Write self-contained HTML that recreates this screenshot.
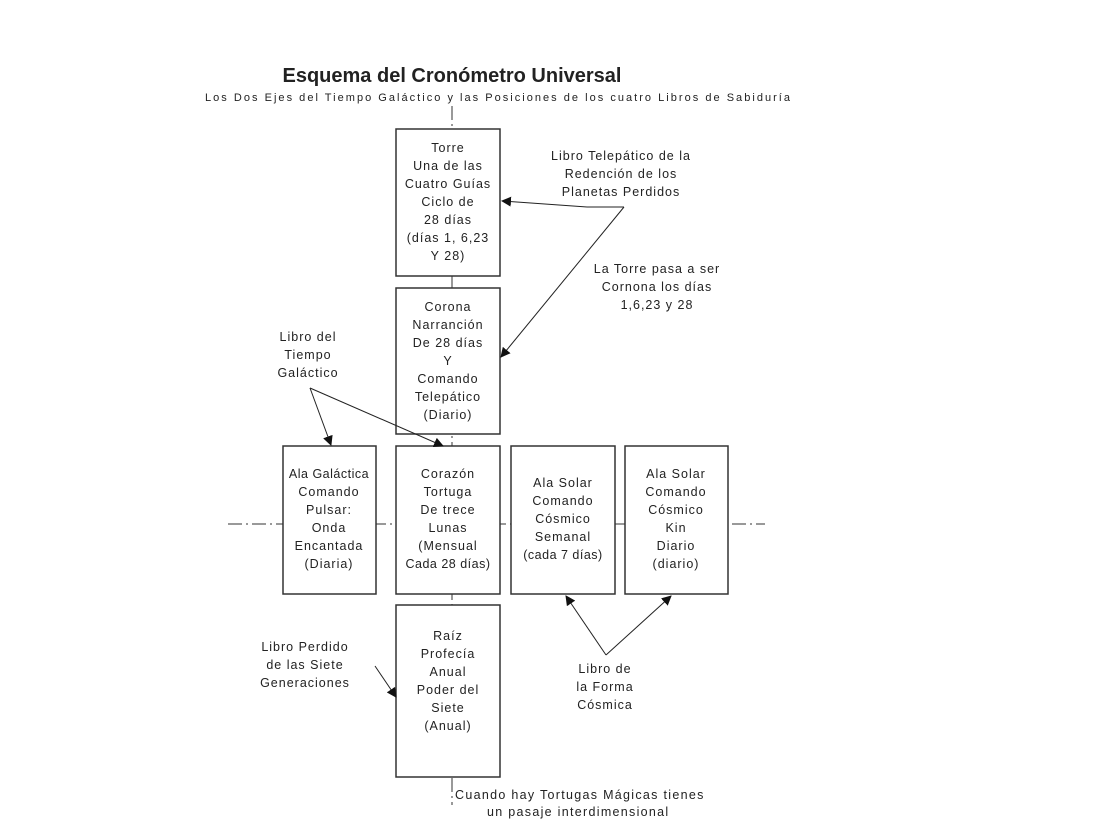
<!DOCTYPE html>
<html><head><meta charset="utf-8"><style>
body{margin:0;background:#fff;}
svg text{font-family:"Liberation Sans",sans-serif;fill:#222;}
</style></head><body>
<svg width="1105" height="830" viewBox="0 0 1105 830" xmlns="http://www.w3.org/2000/svg">
<defs><marker id="a" markerWidth="10" markerHeight="10" refX="9" refY="5" orient="auto" markerUnits="userSpaceOnUse"><path d="M0,0 L10,5 L0,10 z" fill="#111"/></marker></defs>
<text x="452" y="82" font-size="20" font-weight="bold" text-anchor="middle">Esquema del Cronómetro Universal</text>
<text x="205" y="101" font-size="11" textLength="585" lengthAdjust="spacing">Los Dos Ejes del Tiempo Galáctico y las Posiciones de los cuatro Libros de Sabiduría</text>
<g stroke="#333" stroke-width="1" fill="none">
<line x1="452" y1="106" x2="452" y2="805" stroke-dasharray="14,4,2,4"/>
<line x1="228" y1="524" x2="765" y2="524" stroke-dasharray="14,4,2,4"/>
</g>
<g stroke="#333" stroke-width="1.5" fill="#fff">
<rect x="396" y="129" width="104" height="147"/>
<rect x="396" y="288" width="104" height="146"/>
<rect x="283" y="446" width="93" height="148"/>
<rect x="396" y="446" width="104" height="148"/>
<rect x="511" y="446" width="104" height="148"/>
<rect x="625" y="446" width="103" height="148"/>
<rect x="396" y="605" width="104" height="172"/>
</g>
<g font-size="12.5" text-anchor="middle" letter-spacing="1">
<text x="448" y="152">Torre</text><text x="448" y="170">Una de las</text><text x="448" y="188">Cuatro Guías</text><text x="448" y="206">Ciclo de</text><text x="448" y="224">28 días</text><text x="448" y="242">(días 1, 6,23</text><text x="448" y="260">Y 28)</text>
<text x="448" y="311">Corona</text><text x="448" y="329">Narranción</text><text x="448" y="347">De 28 días</text><text x="448" y="365">Y</text><text x="448" y="383">Comando</text><text x="448" y="401">Telepático</text><text x="448" y="419">(Diario)</text>
<text x="329" y="478" letter-spacing="0.5">Ala Galáctica</text><text x="329" y="496">Comando</text><text x="329" y="514">Pulsar:</text><text x="329" y="532">Onda</text><text x="329" y="550">Encantada</text><text x="329" y="568">(Diaria)</text>
<text x="448" y="478">Corazón</text><text x="448" y="496">Tortuga</text><text x="448" y="514">De trece</text><text x="448" y="532">Lunas</text><text x="448" y="550">(Mensual</text><text x="448" y="568" letter-spacing="0.5">Cada 28 días)</text>
<text x="563" y="487">Ala Solar</text><text x="563" y="505">Comando</text><text x="563" y="523">Cósmico</text><text x="563" y="541">Semanal</text><text x="563" y="559" letter-spacing="0.5">(cada 7 días)</text>
<text x="676" y="478">Ala Solar</text><text x="676" y="496">Comando</text><text x="676" y="514">Cósmico</text><text x="676" y="532">Kin</text><text x="676" y="550">Diario</text><text x="676" y="568">(diario)</text>
<text x="448" y="640">Raíz</text><text x="448" y="658">Profecía</text><text x="448" y="676">Anual</text><text x="448" y="694">Poder del</text><text x="448" y="712">Siete</text><text x="448" y="730">(Anual)</text>
<text x="621" y="160">Libro Telepático de la</text><text x="621" y="178">Redención de los</text><text x="621" y="196">Planetas Perdidos</text>
<text x="657" y="273">La Torre pasa a ser</text><text x="657" y="291">Cornona los días</text><text x="657" y="309">1,6,23 y 28</text>
<text x="308" y="341">Libro del</text><text x="308" y="359">Tiempo</text><text x="308" y="377">Galáctico</text>
<text x="305" y="651">Libro Perdido</text><text x="305" y="669">de las Siete</text><text x="305" y="687">Generaciones</text>
<text x="605" y="673">Libro de</text><text x="605" y="691">la Forma</text><text x="605" y="709">Cósmica</text>
</g>
<g font-size="12.5" letter-spacing="1.3"><text x="455" y="799">Cuando hay Tortugas Mágicas tienes</text><text x="487" y="816">un pasaje interdimensional</text></g>
<g stroke="#222" stroke-width="1" fill="none">
<line x1="624" y1="207" x2="501" y2="357" marker-end="url(#a)"/>
<polyline points="624,207 587,207"/>
<line x1="587" y1="207" x2="502" y2="201" marker-end="url(#a)"/>
<line x1="310" y1="388" x2="331" y2="445" marker-end="url(#a)"/>
<line x1="310" y1="388" x2="443" y2="446" marker-end="url(#a)"/>
<line x1="375" y1="666" x2="396" y2="697" marker-end="url(#a)"/>
<line x1="606" y1="655" x2="566" y2="596" marker-end="url(#a)"/>
<line x1="606" y1="655" x2="671" y2="596" marker-end="url(#a)"/>
</g>
</svg>
</body></html>
